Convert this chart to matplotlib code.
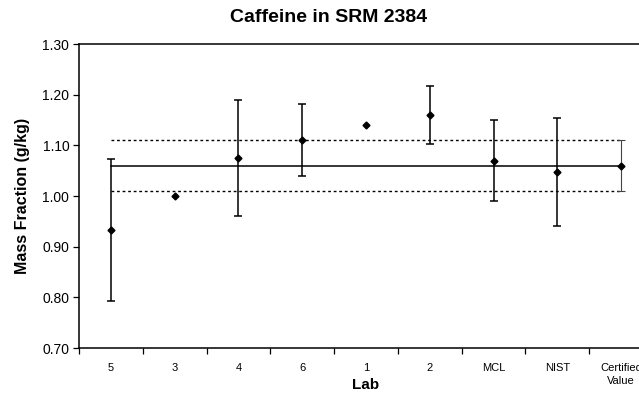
import numpy as np
import matplotlib
matplotlib.use("Agg")
import matplotlib.pyplot as plt

plt.rcParams['font.family'] = ['Liberation Sans', 'DejaVu Sans']

# data
labs = ["5", "3", "4", "6", "1", "2", "MCL", "NIST", "Certified\nValue"]
mass_frac = [0.933, 1.000, 1.075, 1.110, 1.140, 1.160, 1.070, 1.047, 1.060]
err = [0.140, 0.0, 0.114, 0.071, 0.0, 0.057, 0.080, 0.107, 0.050]
certified = 1.06
cert_unc = 0.05

fig = plt.figure(figsize=(6.39, 3.93), dpi=100)
ax = fig.add_axes([79/639, 1 - 348/393, 574/639, 304/393])

x = np.arange(len(labs))

# certified value and uncertainty band
ax.plot([x[0], x[-1]], [certified, certified], color='black', lw=1.1)
ax.plot([x[0], x[-1]], [certified + cert_unc] * 2, color='black', lw=1.0, ls=(0, (2, 2)))
ax.plot([x[0], x[-1]], [certified - cert_unc] * 2, color='black', lw=1.0, ls=(0, (2, 2)))

# labs (no error bar where err == 0)
for i in range(len(labs) - 1):
    if err[i] > 0:
        ax.errorbar(x[i], mass_frac[i], yerr=err[i], fmt='D', color='black',
                    ms=3.5, capsize=3, elinewidth=1.1, capthick=1.1)
    else:
        ax.plot(x[i], mass_frac[i], 'D', color='black', ms=3.5)

# certified value point, thinner bar
ax.errorbar(x[-1], mass_frac[-1], yerr=err[-1], fmt='D', color='black',
            ecolor='#444444', ms=3.5, capsize=3, elinewidth=0.8, capthick=0.8)

ax.set_xlim(-0.5, len(labs) - 0.5)
ax.set_ylim(0.70, 1.30)
ax.set_yticks(np.arange(0.70, 1.31, 0.10))
ax.set_yticklabels(["%.2f" % v for v in np.arange(0.70, 1.31, 0.10)], fontsize=10)

ax.set_xticks(np.arange(-0.5, len(labs), 1.0))
ax.set_xticklabels([])
ax.set_xticks(x, minor=True)
ax.set_xticklabels(labs, minor=True, fontsize=8, linespacing=1.4)
ax.tick_params(axis='x', which='minor', length=0, pad=10.5)
ax.tick_params(axis='x', which='major', length=4, direction='out', width=0.9)
ax.tick_params(axis='y', length=4, direction='out', width=0.9, pad=3)

ax.spines['right'].set_visible(False)
for s in ['left', 'bottom', 'top']:
    ax.spines[s].set_linewidth(1.1)

ax.set_ylabel("Mass Fraction (g/kg)", fontsize=11.5, fontweight='bold')
ax.yaxis.set_label_coords((30 - 79) / 574, 0.5)
ax.set_xlabel("Lab", fontsize=11, fontweight='bold', va='center')
ax.xaxis.set_label_coords(0.5, -(385 - 348) / 304)
fig.text(329/639, 1 - 18/393, "Caffeine in SRM 2384", ha='center', va='center',
         fontsize=14, fontweight='bold')

fig.savefig("out.png", dpi=100)
